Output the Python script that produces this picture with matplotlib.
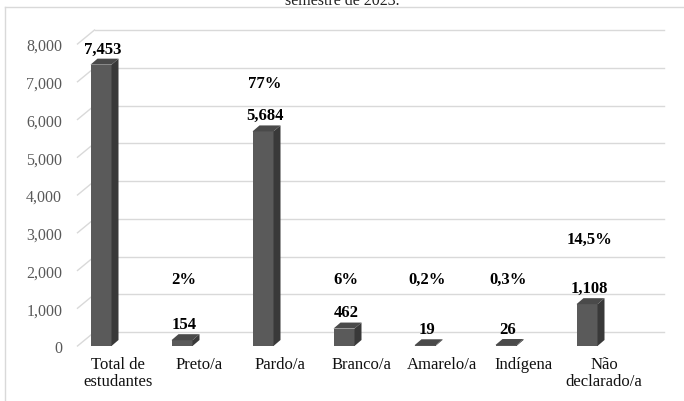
import numpy as np
import matplotlib
matplotlib.use('Agg')
import matplotlib.pyplot as plt
from matplotlib.patches import Polygon

categorias = ['Total de\nestudantes', 'Preto/a', 'Pardo/a', 'Branco/a',
              'Amarelo/a', 'Indígena', 'Não\ndeclarado/a']
valores = [7453, 154, 5684, 462, 19, 26, 1108]
rotulos = ['7,453', '154', '5,684', '462', '19', '26', '1,108']
percentuais = ['', '2%', '77%', '6%', '0,2%', '0,3%', '14,5%']
altura_pct = [0, 1775, 6970, 1775, 1775, 1775, 2830]   # where the % labels sit
yticks = [0, 1000, 2000, 3000, 4000, 5000, 6000, 7000, 8000]
ytick_labels = ['0', '1,000', '2,000', '3,000', '4,000', '5,000', '6,000', '7,000', '8,000']

plt.rcParams['font.family'] = ['Liberation Serif', 'DejaVu Serif']

W, H = 684, 402
fig = plt.figure(figsize=(W / 100, H / 100), dpi=100)

# frame + cut title
fig.add_artist(plt.Line2D([5 / W, 1], [1 - 8 / H, 1 - 8 / H], color='#d9d9d9', lw=1))
fig.add_artist(plt.Line2D([5 / W, 5 / W], [0, 1 - 8 / H], color='#d9d9d9', lw=1))
fig.text(0.5, 1 - 5 / H, 'semestre de 2023.', ha='center', va='baseline',
         fontsize=11.5, color='#222222')

left, bottom = 77.5, 347
pxx = 81.0          # px per category
pxy = 302 / 8000    # px per unit
ax = fig.add_axes([left / W, 1 - bottom / H, 7 * pxx / W, 302 / H])
ax.set_xlim(-0.5, 6.5)
ax.set_ylim(0, 8000)
for s in ax.spines.values():
    s.set_visible(False)
ax.patch.set_alpha(0)

# wall offset (back gridlines) and bar depth, px -> data
wdx, wdy = 17 / pxx, 14 / pxy
bdx, bdy = 7 / pxx, 6 / pxy
x_end = (664 - left) / pxx - 0.5

for v in yticks:
    ax.plot([-0.5, -0.5 + wdx], [v, v + wdy], color='#d9d9d9', lw=1, clip_on=False, zorder=1)
    ax.plot([-0.5 + wdx, x_end], [v + wdy, v + wdy], color='#d9d9d9', lw=1, clip_on=False, zorder=1)

x = np.arange(len(categorias))
bw = 21 / pxx
xb = x - 17 / pxx
ax.bar(xb, valores, width=bw, color='#5a5a5a', zorder=3)
for xi, v in zip(xb, valores):
    x0, x1 = xi - bw / 2, xi + bw / 2
    side = Polygon([(x1, 0), (x1 + bdx, bdy), (x1 + bdx, v + bdy), (x1, v)],
                   closed=True, fc='#393939', ec='none', zorder=3)
    top = Polygon([(x0, v), (x0 + bdx, v + bdy), (x1 + bdx, v + bdy), (x1, v)],
                  closed=True, fc='#4a4a4a', ec='none', zorder=4)
    ax.add_patch(side)
    ax.add_patch(top)

for xi, v, r in zip(xb, valores, rotulos):
    ax.text(xi + 2 / pxx, v + bdy + 60, r, ha='center', va='bottom',
            fontsize=12, fontweight='bold', color='#000000', zorder=5)

for xi, p, h in zip(xb, percentuais, altura_pct):
    if p:
        ax.text(xi + 2 / pxx, h, p, ha='center', va='center',
                fontsize=12, fontweight='bold', color='#000000', zorder=5)

ax.set_yticks(yticks)
ax.set_yticklabels(ytick_labels, fontsize=11.5, color='#595959')
ax.tick_params(axis='y', length=0, pad=11)
ax.set_xticks(x)
ax.set_xticklabels(categorias, fontsize=12, color='#111111', linespacing=1.1)
ax.tick_params(axis='x', length=0, pad=7)

fig.savefig('out.png', dpi=100)
